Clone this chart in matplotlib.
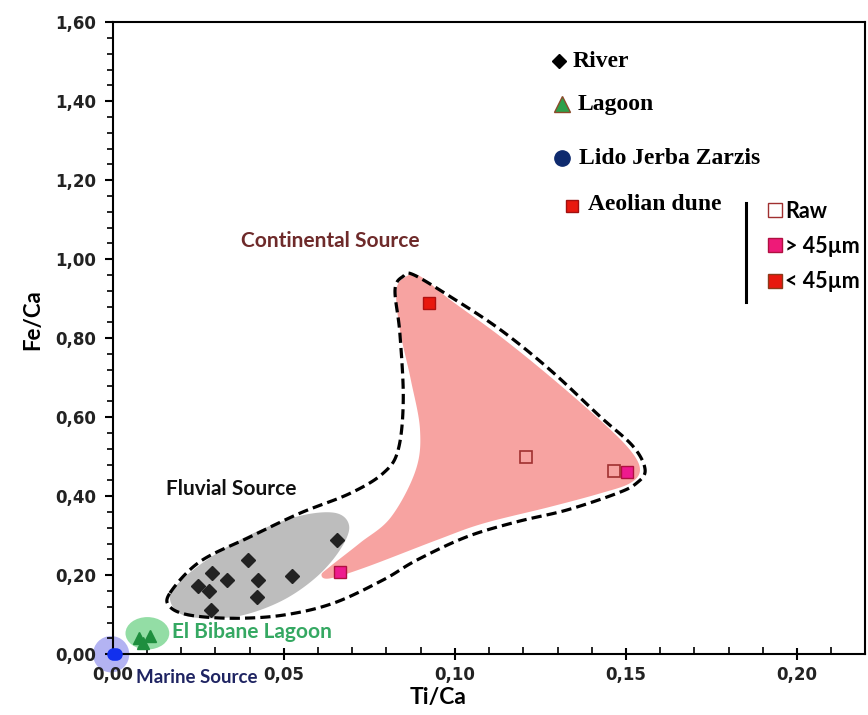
import numpy as np
import matplotlib
matplotlib.use("Agg")
import matplotlib.pyplot as plt
from matplotlib.patches import Ellipse, Polygon
from matplotlib.ticker import MultipleLocator, FuncFormatter

# ---- sample data (Ti/Ca, Fe/Ca) ----
river_ti = [0.0655, 0.0396, 0.0289, 0.0333, 0.0248, 0.0282, 0.0425, 0.0525, 0.0421, 0.0286]
river_fe = [0.289, 0.238, 0.206, 0.188, 0.172, 0.160, 0.188, 0.198, 0.145, 0.112]

lagoon_ti = [0.0076, 0.0108, 0.0088]
lagoon_fe = [0.041, 0.047, 0.029]

lido_ti = [0.0000, 0.0010]
lido_fe = [0.000, 0.000]

dune_raw_ti = [0.1209, 0.1466]
dune_raw_fe = [0.500, 0.464]
dune_coarse_ti = [0.0664, 0.1502]   # > 45 µm
dune_coarse_fe = [0.209, 0.461]
dune_fine_ti = [0.0923]             # < 45 µm
dune_fine_fe = [0.889]

# ---- source-field outlines (Ti/Ca, Fe/Ca) ----
continental_outline = [
    (0.0167, 0.155), (0.0254, 0.234), (0.0401, 0.297), (0.0547, 0.357),
    (0.0693, 0.407), (0.0790, 0.458), (0.0834, 0.517), (0.0849, 0.644),
    (0.0839, 0.813), (0.0825, 0.923), (0.0849, 0.957), (0.0878, 0.961),
    (0.0985, 0.906), (0.1132, 0.822), (0.1278, 0.720), (0.1424, 0.602),
    (0.1521, 0.526), (0.1556, 0.467), (0.1531, 0.433), (0.1473, 0.407),
    (0.1327, 0.365), (0.1180, 0.335), (0.1034, 0.297), (0.0888, 0.238),
    (0.0790, 0.188), (0.0644, 0.129), (0.0498, 0.099), (0.0352, 0.091),
    (0.0225, 0.099), (0.0167, 0.120),
]
dune_field = [
    (0.0859, 0.957), (0.0829, 0.923), (0.0839, 0.822), (0.0871, 0.695),
    (0.0898, 0.568), (0.0885, 0.465), (0.0813, 0.347), (0.0723, 0.282),
    (0.0635, 0.222), (0.0610, 0.201), (0.0635, 0.192), (0.0742, 0.221),
    (0.0950, 0.290), (0.1083, 0.331), (0.1278, 0.373), (0.1424, 0.407),
    (0.1512, 0.433), (0.1541, 0.467), (0.1512, 0.517), (0.1424, 0.593),
    (0.1278, 0.703), (0.1132, 0.805), (0.0985, 0.898), (0.0898, 0.957),
]
fluvial_field = [
    (0.0167, 0.145), (0.0206, 0.192), (0.0303, 0.255), (0.0430, 0.314),
    (0.0556, 0.352), (0.0654, 0.357), (0.0691, 0.323), (0.0664, 0.264),
    (0.0596, 0.196), (0.0498, 0.137), (0.0381, 0.099), (0.0274, 0.091),
    (0.0196, 0.103),
]


def smooth_closed(points, n=30):
    """Closed Catmull-Rom spline through the given vertices."""
    p = np.asarray(points, dtype=float)
    m = len(p)
    out = []
    t = np.linspace(0, 1, n, endpoint=False)[:, None]
    for i in range(m):
        p0, p1, p2, p3 = p[i - 1], p[i], p[(i + 1) % m], p[(i + 2) % m]
        seg = 0.5 * ((2 * p1) + (-p0 + p2) * t + (2 * p0 - 5 * p1 + 4 * p2 - p3) * t ** 2
                     + (-p0 + 3 * p1 - 3 * p2 + p3) * t ** 3)
        out.append(seg)
    return np.vstack(out)


calibri_like = ["Lato", "DejaVu Sans"]
serif_bold = ["Liberation Serif", "DejaVu Serif"]

fig = plt.figure(figsize=(8.68, 7.15), dpi=100)
ax = fig.add_axes([0.130, 0.085, 0.867, 0.884])
ax.set_xlim(0, 0.22)
ax.set_ylim(0, 1.6)

# source fields
ax.add_patch(Polygon(smooth_closed(dune_field), closed=True, facecolor="#F7A3A1",
                     edgecolor="none", zorder=1))
ax.add_patch(Polygon(smooth_closed(fluvial_field), closed=True, facecolor="#BDBDBD",
                     edgecolor="none", zorder=1))
ax.add_patch(Polygon(smooth_closed(continental_outline), closed=True, facecolor="none",
                     edgecolor="black", lw=2.3, linestyle=(0, (3.2, 1.6)), zorder=2))
ax.add_patch(Ellipse((0.0101, 0.053), 0.0128, 0.082, facecolor="#93DDA5",
                     edgecolor="none", zorder=1))
ax.add_patch(Ellipse((-0.0005, 0.0), 0.0106, 0.092, facecolor="#B3B3F2",
                     edgecolor="none", zorder=1, clip_on=False))

# samples
ax.plot(river_ti, river_fe, "D", ms=7.5, color="#222222", ls="none", zorder=4)
ax.plot(lagoon_ti, lagoon_fe, "^", ms=8, color="#1E8E3E", ls="none", zorder=4)
ax.plot(lido_ti, lido_fe, "o", ms=8, color="#1230EE", ls="none", zorder=4, clip_on=False)
ax.plot(dune_raw_ti, dune_raw_fe, "s", ms=8, mfc="none", mec="#A03030", mew=1.2,
        ls="none", zorder=4)
ax.plot(dune_coarse_ti, dune_coarse_fe, "s", ms=8, mfc="#EE1A8E", mec="#B01040", mew=1.0,
        ls="none", zorder=4)
ax.plot(dune_fine_ti, dune_fine_fe, "s", ms=8, mfc="#E8180E", mec="#B01010", mew=1.0,
        ls="none", zorder=4)

# field labels
ax.text(0.0375, 1.045, "Continental Source", color="#6E2A2A", fontsize=15,
        fontweight="bold", family=calibri_like, va="center")
ax.text(0.0154, 0.418, "Fluvial Source", color="#111111", fontsize=15,
        fontweight="bold", family=calibri_like, va="center")
ax.text(0.0172, 0.055, "El Bibane Lagoon", color="#35A862", fontsize=15,
        fontweight="bold", family=calibri_like, va="center")
ax.text(0.0068, -0.058, "Marine Source", color="#1F2462", fontsize=13.5,
        fontweight="bold", family=calibri_like, va="center", clip_on=False)

# key
T = ax.transAxes
ax.plot(0.593, 0.938, "D", ms=7, color="black", transform=T, clip_on=False)
ax.text(0.611, 0.938, "River", transform=T, fontsize=17, fontweight="bold",
        family=serif_bold, va="center")
ax.plot(0.597, 0.870, "^", ms=11, mfc="#2EA04A", mec="#8B4A2A", mew=1.0,
        transform=T, clip_on=False)
ax.text(0.617, 0.870, "Lagoon", transform=T, fontsize=17, fontweight="bold",
        family=serif_bold, va="center")
ax.plot(0.597, 0.785, "o", ms=11, color="#0E2A6E", transform=T, clip_on=False)
ax.text(0.620, 0.785, "Lido Jerba Zarzis", transform=T, fontsize=17, fontweight="bold",
        family=serif_bold, va="center")
ax.plot(0.610, 0.709, "s", ms=9, mfc="#E8180E", mec="#A01010", transform=T, clip_on=False)
ax.text(0.631, 0.711, "Aeolian dune", transform=T, fontsize=17, fontweight="bold",
        family=serif_bold, va="center")
ax.plot([0.842, 0.842], [0.714, 0.557], color="black", lw=2.2, transform=T, clip_on=False)
ax.plot(0.880, 0.703, "s", ms=10, mfc="white", mec="#A03030", mew=1.0,
        transform=T, clip_on=False)
ax.text(0.893, 0.700, "Raw", transform=T, fontsize=15.5, fontweight="bold",
        family=calibri_like, va="center")
ax.plot(0.880, 0.647, "s", ms=9.5, mfc="#EE1A78", mec="#B01040", transform=T, clip_on=False)
ax.text(0.893, 0.645, "> 45µm", transform=T, fontsize=15.5, fontweight="bold",
        family=calibri_like, va="center")
ax.plot(0.880, 0.590, "s", ms=9.5, mfc="#E8180E", mec="#8B3A1A", transform=T, clip_on=False)
ax.text(0.893, 0.590, "< 45µm", transform=T, fontsize=15.5, fontweight="bold",
        family=calibri_like, va="center")

# axes styling
ax.xaxis.set_major_locator(MultipleLocator(0.05))
ax.xaxis.set_minor_locator(MultipleLocator(0.01))
ax.yaxis.set_major_locator(MultipleLocator(0.2))
ax.yaxis.set_minor_locator(MultipleLocator(0.04))
ax.xaxis.set_major_formatter(FuncFormatter(lambda v, p: f"{v:.2f}".replace(".", ",")))
ax.yaxis.set_major_formatter(FuncFormatter(lambda v, p: f"{v:.2f}".replace(".", ",")))
ax.tick_params(axis="x", which="major", direction="inout", length=9, width=1.5, pad=4)
ax.tick_params(axis="x", which="minor", direction="in", length=5, width=1.2)
ax.tick_params(axis="y", which="major", direction="out", length=6, width=1.5, pad=6)
ax.tick_params(axis="y", which="minor", direction="out", length=4, width=1.2)
for lab in ax.get_xticklabels() + ax.get_yticklabels():
    lab.set_fontweight("bold")
    lab.set_fontsize(12)
    lab.set_color("#222222")
for s in ax.spines.values():
    s.set_linewidth(1.5)
    s.set_color("black")

ax.set_xlabel("Ti/Ca", fontsize=16.5, fontweight="bold", family=calibri_like)
ax.set_ylabel("Fe/Ca", fontsize=16, fontweight="bold", family=calibri_like)
ax.xaxis.set_label_coords(0.432, -0.052)
ax.yaxis.set_label_coords(-0.092, 0.53)

fig.savefig("out.png", dpi=100)
